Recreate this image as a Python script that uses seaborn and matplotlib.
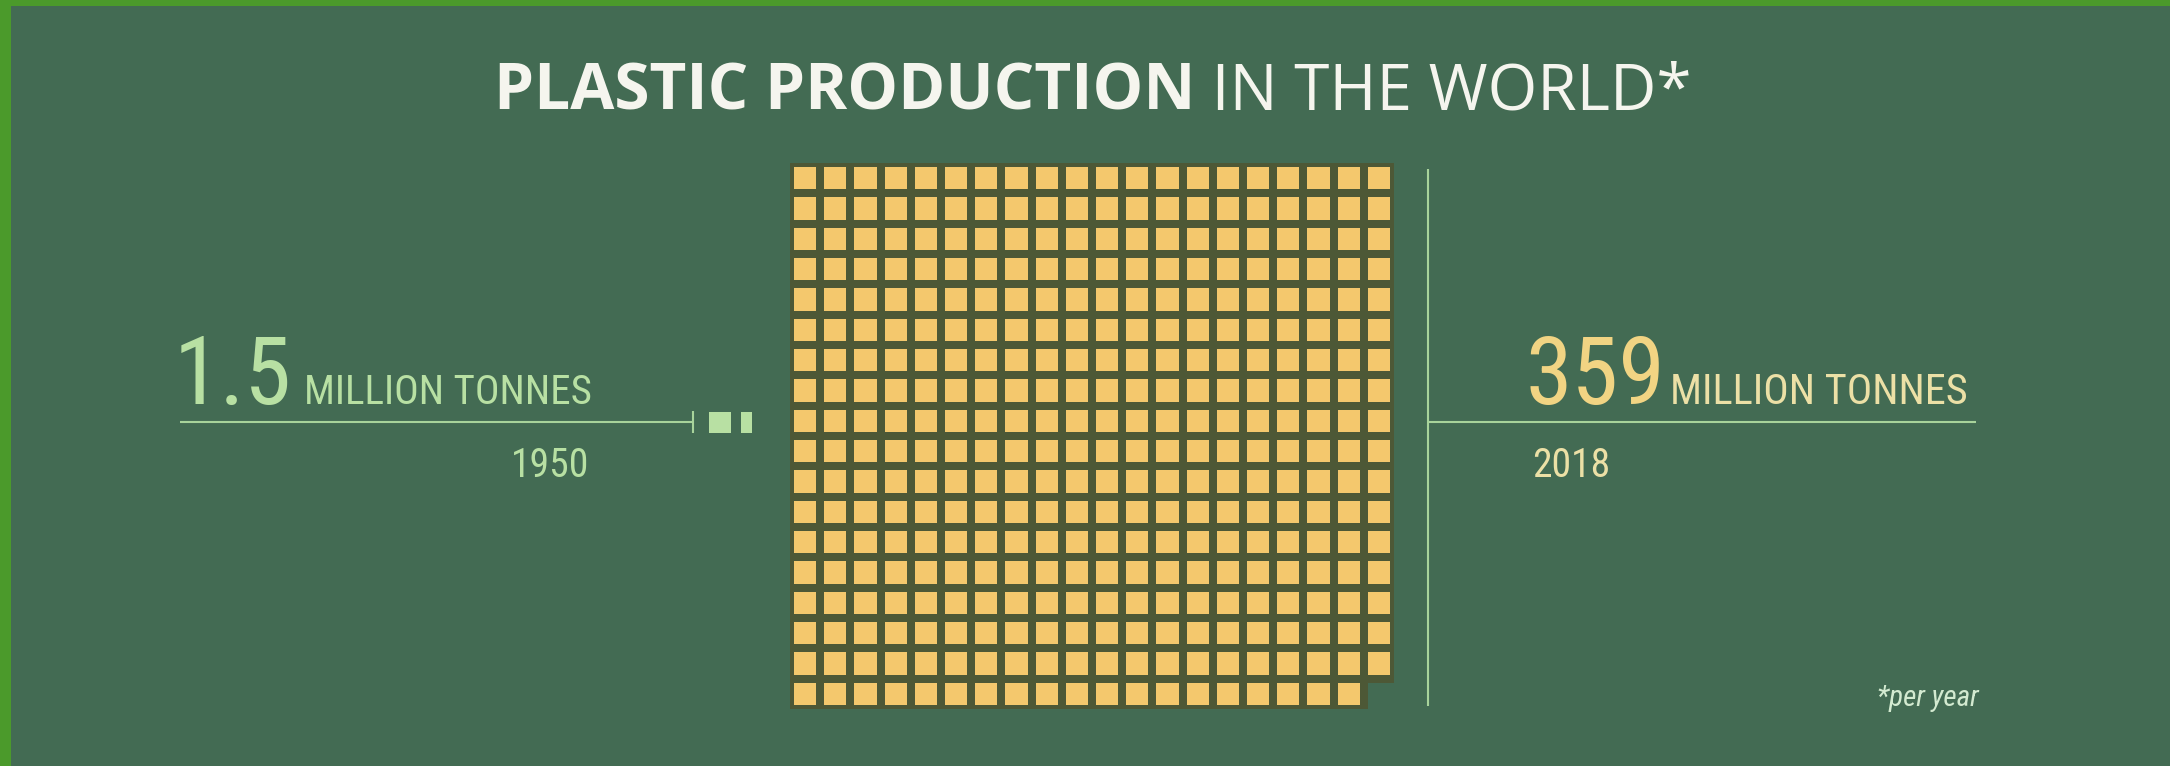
import numpy as np
import matplotlib
matplotlib.use("Agg")
import matplotlib.pyplot as plt
from matplotlib.colors import ListedColormap, to_rgba
from matplotlib.patches import Rectangle
from matplotlib.collections import QuadMesh
import seaborn as sns

# ---------------- data ----------------
years = [1950, 2018]
production_mt = [1.5, 359]          # million tonnes per year
unit_label = "MILLION TONNES"
title_bold = "PLASTIC PRODUCTION"
title_regular = " IN THE WORLD*"
footnote = "*per year"
waffle_cols = 20                    # one square = 1 million tonnes

# ---------------- style ----------------
W, H, DPI = 2170, 766, 100
BG = "#436b53"
BORDER = "#4b9a2b"
SQ = "#f4c86d"
GAP = "#4d5836"
LG = "#b8e0a3"
LINE = "#a8d39b"
YEL = "#f1d483"
PALE_YEL = "#ece0a6"
WHITE = "#f5f5ee"
NARROW = ["Noto Sans Condensed", "Roboto Condensed", "Open Sans Condensed",
          "Liberation Sans Narrow", "Noto Sans", "DejaVu Sans"]
TITLE_FONT = ["Open Sans", "Roboto", "DejaVu Sans"]

sns.set_theme(style="white")
plt.rcParams["font.family"] = NARROW

fig = plt.figure(figsize=(W / DPI, H / DPI), dpi=DPI, facecolor=BG)


def px_axes(x0, y0, x1, y1):
    """axes from a pixel box given with a top-left origin"""
    return fig.add_axes([x0 / W, 1 - y1 / H, (x1 - x0) / W, (y1 - y0) / H])


# overlay in pixel coordinates for texts and rules
ov = px_axes(0, 0, W, H)
ov.set_xlim(0, W)
ov.set_ylim(H, 0)
ov.axis("off")

ov.add_patch(Rectangle((0, 0), 11, H, color=BORDER, lw=0))
ov.add_patch(Rectangle((0, 0), W, 6, color=BORDER, lw=0))

# title
t1 = ov.text(494, 125, title_bold, fontsize=46, fontweight="bold",
             family=TITLE_FONT, color=WHITE, ha="left", va="bottom")
ov.annotate(title_regular, xy=(1, 0), xycoords=t1, fontsize=46,
            family=TITLE_FONT, color=WHITE, ha="left", va="bottom")

# left block (1950)
ov.text(174, 404, f"{production_mt[0]:g}", fontsize=68, color=LG,
        ha="left", va="baseline")
ov.text(304, 404, unit_label, fontsize=29.5, color=LG, ha="left", va="baseline")
ov.text(589, 477, str(years[0]), fontsize=28.5, color=LG, ha="right", va="baseline")
ov.plot([180, 692], [422, 422], color=LINE, lw=1.5, solid_capstyle="butt")
ov.plot([693, 693], [411, 433], color=LINE, lw=1.5, solid_capstyle="butt")

# right block (2018)
ov.text(1526, 404, f"{production_mt[1]:g}", fontsize=68, color=YEL,
        ha="left", va="baseline")
ov.text(1670, 404, unit_label, fontsize=30.5, color=PALE_YEL, ha="left", va="baseline")
ov.text(1532, 477, str(years[1]), fontsize=28.5, color=PALE_YEL, ha="left", va="baseline")
ov.plot([1428, 1428], [169, 706], color=LINE, lw=1.5, solid_capstyle="butt")
ov.plot([1428, 1976], [422, 422], color=LINE, lw=1.5, solid_capstyle="butt")

ov.text(1979, 706, footnote, fontsize=21, style="italic", color="#d3ead0",
        ha="right", va="baseline")

# ---------------- waffle for 2018 ----------------
n_sq = int(round(production_mt[1]))
n_rows = int(np.ceil(n_sq / waffle_cols))
grid = (np.arange(n_rows * waffle_cols) < n_sq).reshape(n_rows, waffle_cols).astype(float)
empty = grid == 0
wax = px_axes(790, 163, 1394, 709)
sns.heatmap(grid, mask=empty, cmap=ListedColormap([SQ]), cbar=False,
            linewidths=4.4, linecolor=GAP, xticklabels=False, yticklabels=False,
            ax=wax)
# no outline around the empty cells
for coll in wax.collections:
    if isinstance(coll, QuadMesh):
        gap_rgba = np.array(to_rgba(GAP))
        ec = np.tile(gap_rgba, (empty.size, 1))
        ec[empty.ravel()] = (0, 0, 0, 0)
        coll.set_edgecolor(ec)
wax.set_facecolor("none")
for s in wax.spines.values():
    s.set_visible(False)

# ---------------- small squares for 1950 ----------------
full = int(production_mt[0])
frac = production_mt[0] - full
widths = [1.0] * full + ([frac] if frac > 0 else [])
lefts = [i * 1.5 for i in range(len(widths))]
sax = px_axes(709, 412, 752, 433)
sax.bar(lefts, [1] * len(widths), width=widths, align="edge", color=LG, lw=0)
sax.set_xlim(0, 2.0)
sax.set_ylim(0, 1)
sax.axis("off")

fig.savefig("out.png", dpi=DPI, facecolor=BG)
